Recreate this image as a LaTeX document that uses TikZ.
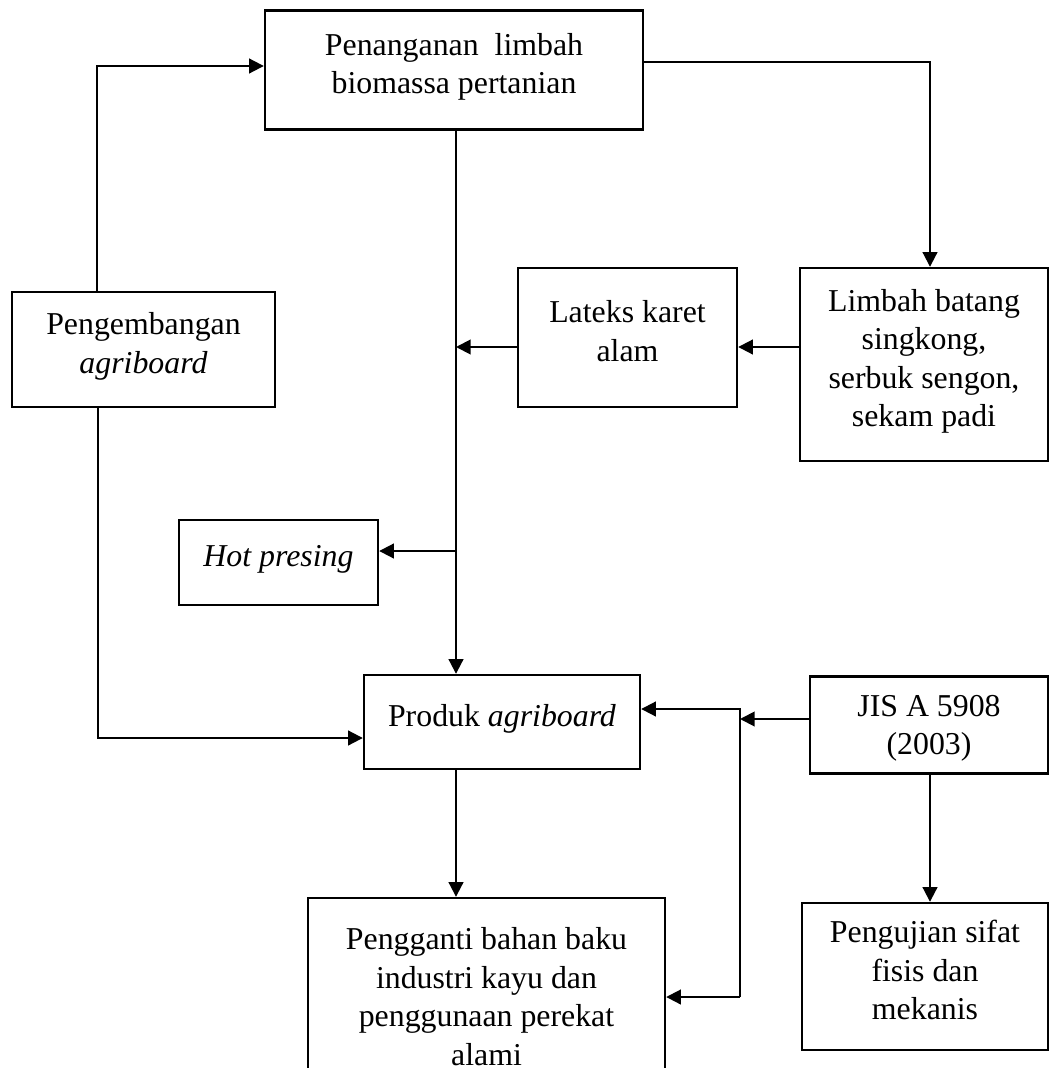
\documentclass[tikz,border=0pt]{standalone}
\usepackage{fontspec}
\setmainfont{Liberation Serif}
\usetikzlibrary{arrows.meta}
\newlength\pxu
\setlength\pxu{0.377pt}
\tikzset{
  box/.style={draw, line width=0.9pt, align=center, inner sep=2pt,
    font=\fontsize{12}{14.5}\selectfont,
    execute at end node={\rule[-5pt]{0pt}{5pt}}},
  arr/.style={-{Triangle[length=5.5pt,width=5.5pt]}, line width=0.75pt},
}
\begin{document}
\begin{tikzpicture}[x=0.377pt, y=-0.377pt]
            \useasboundingbox (0,0) rectangle (1050,1068);
            \clip (0,0) rectangle (1050,1068);
                % boxes
                \node [box, minimum width=378\pxu, minimum height=119\pxu] (pen) at (454,70) {Penanganan \ limbah\\biomassa pertanian};
                \node [box, minimum width=263\pxu, minimum height=115\pxu] (peng) at (143.5,349.5) {Pengembangan\\\textit{agriboard}};
                \node [box, minimum width=219\pxu, minimum height=139\pxu] (lateks) at (627.5,337.5) {Lateks karet\\alam};
                \node [box, minimum width=248\pxu, minimum height=193\pxu] (limbah) at (924,364.5) {Limbah batang\\singkong,\\serbuk sengon,\\sekam padi};
                \node [box, minimum width=199\pxu, minimum height=85\pxu] (hot) at (278.5,562.5) {\textit{Hot presing}};
                \node [box, minimum width=276\pxu, minimum height=94\pxu] (produk) at (502,722) {Produk \textit{agriboard}};
                \node [box, minimum width=238\pxu, minimum height=94\pxu, execute at end node={}] (jis) at (929,725) {\rule{0pt}{13pt}JIS A 5908\\(2003)};
                \node [box, minimum width=357\pxu, minimum height=210\pxu] (pengganti) at (486.5,1003) {Pengganti bahan baku\\industri kayu dan\\penggunaan perekat\\alami\rule[-4pt]{0pt}{4pt}};
                \node [box, minimum width=246\pxu, minimum height=147\pxu] (uji) at (925,976.5) {Pengujian sifat\\fisis dan\\mekanis};
                % junctions
                \coordinate (t1) at (456,347);
                \coordinate (t2) at (456,551);
                \coordinate (j) at (740,719);
                \coordinate (bt) at (740,709);
                \coordinate (bb) at (740,997);
                % connectors
                \draw [arr] (peng.north -| 97,0) |- (pen.west |- 0,66);
                \draw [arr] (pen.east |- 0,62) -| (limbah.north -| 930,0);
                \draw [arr] (pen.south -| t1) -- (produk.north -| t1);
                \draw [arr] (lateks.west |- t1) -- (t1);
                \draw [arr] (limbah.west |- t1) -- (lateks.east |- t1);
                \draw [arr] (t2) -- (hot.east |- t2);
                \draw [arr] (peng.south -| 98,0) |- (produk.west |- 0,738);
                \draw [arr] (jis.west |- j) -- (j);
                \draw [arr] (bb) -- (bt) -- (produk.east |- bt);
                \draw [arr] (bb) -- (pengganti.east |- bb);
                \draw [arr] (produk.south -| t1) -- (pengganti.north -| t1);
                \draw [arr] (jis.south -| 930,0) -- (uji.north -| 930,0);
\end{tikzpicture}
\end{document}
